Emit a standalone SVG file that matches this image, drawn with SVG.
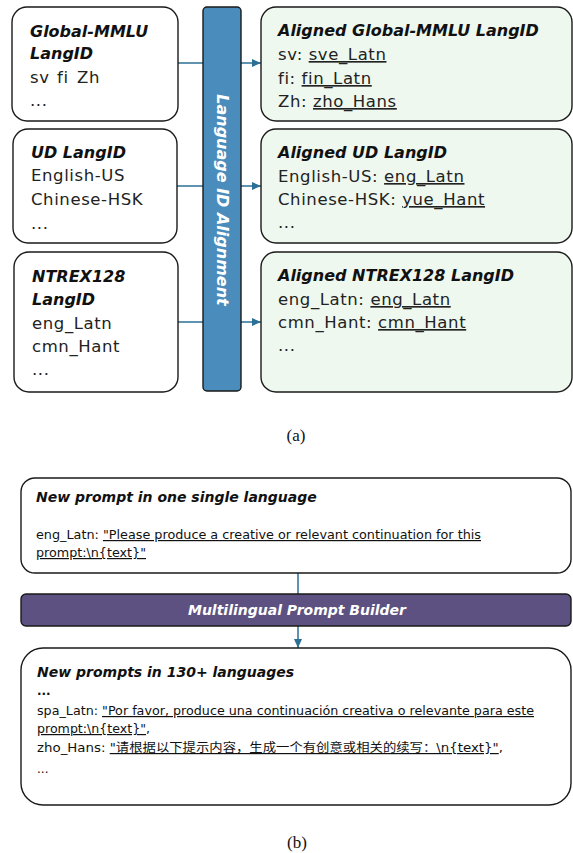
<svg xmlns="http://www.w3.org/2000/svg" width="573" height="853" viewBox="0 0 573 853">
<defs>
<marker id="arr" markerWidth="10" markerHeight="8" refX="9" refY="4" orient="auto" markerUnits="userSpaceOnUse"><path d="M0,0 L9,4 L0,8 z" fill="#2b6f94"/></marker>
</defs>
<style>
.box{fill:#fff;stroke:#1a1a1a;stroke-width:1.4}
.gbox{fill:#eef8ef;stroke:#1a1a1a;stroke-width:1.4}
.h{font-family:"DejaVu Sans",sans-serif;font-weight:bold;font-style:italic;font-size:16px;fill:#111}
.t{font-family:"DejaVu Sans",sans-serif;font-size:16.5px;letter-spacing:0.6px;fill:#222}
.u{text-decoration:underline}
.c{stroke:#2b6f94;stroke-width:1.5;fill:none}
.s{font-family:"DejaVu Sans","Noto Sans CJK SC",sans-serif;font-size:12px;fill:#111}
.bh{font-family:"DejaVu Sans",sans-serif;font-weight:bold;font-style:italic;font-size:14px;fill:#111}
.cap{font-family:"Liberation Serif",serif;font-size:17px;fill:#111;text-anchor:middle}
</style>
<rect width="573" height="853" fill="#fff"/>
<g id="connectors">
<path class="c" d="M178,63 H261" marker-end="url(#arr)"/>
<path class="c" d="M177,186 H261" marker-end="url(#arr)"/>
<path class="c" d="M178,322 H261" marker-end="url(#arr)"/>
<path class="c" d="M298,573 V594"/>
<path class="c" d="M298,626 V648" marker-end="url(#arr)"/>
</g>
<g id="gmmlu">
<rect class="box" x="12" y="7" width="166" height="114" rx="15"/>
<text class="h" x="30" y="37">Global-MMLU</text>
<text class="h" x="30" y="59">LangID</text>
<text class="t" y="83"><tspan x="30">sv</tspan><tspan x="57">fi</tspan><tspan x="77">Zh</tspan></text>
<text class="t" x="30" y="106">...</text>
</g>
<g id="ud">
<rect class="box" x="13" y="129" width="164" height="114" rx="15"/>
<text class="h" x="31" y="158">UD LangID</text>
<text class="t" x="31" y="181">English-US</text>
<text class="t" x="31" y="205">Chinese-HSK</text>
<text class="t" x="31" y="229">...</text>
</g>
<g id="ntrex">
<rect class="box" x="14" y="252" width="164" height="140" rx="15"/>
<text class="h" x="32" y="282">NTREX128</text>
<text class="h" x="32" y="305">LangID</text>
<text class="t" x="32" y="329">eng_Latn</text>
<text class="t" x="32" y="352">cmn_Hant</text>
<text class="t" x="32" y="375">...</text>
</g>
<g id="align">
<rect x="203" y="7" width="38" height="384" rx="4" fill="#4a8cbb" stroke="#1a1a1a" stroke-width="1.4"/>
<text class="h" transform="translate(222,200) rotate(90)" text-anchor="middle" dominant-baseline="central" style="fill:#fff">Language ID Alignment</text>
</g>
<g id="agmmlu">
<rect class="gbox" x="261" y="7" width="311" height="114" rx="15"/>
<text class="h" x="278" y="36">Aligned Global-MMLU LangID</text>
<text class="t" x="278" y="60">sv: <tspan class="u">sve_Latn</tspan></text>
<text class="t" x="278" y="84">fi: <tspan class="u">fin_Latn</tspan></text>
<text class="t" x="278" y="107">Zh: <tspan class="u">zho_Hans</tspan></text>
</g>
<g id="aud">
<rect class="gbox" x="261" y="129" width="311" height="114" rx="15"/>
<text class="h" x="278" y="158">Aligned UD LangID</text>
<text class="t" x="278" y="182">English-US: <tspan class="u">eng_Latn</tspan></text>
<text class="t" x="278" y="205">Chinese-HSK: <tspan class="u">yue_Hant</tspan></text>
<text class="t" x="278" y="228">...</text>
</g>
<g id="antrex">
<rect class="gbox" x="261" y="252" width="311" height="140" rx="15"/>
<text class="h" x="278" y="281">Aligned NTREX128 LangID</text>
<text class="t" x="278" y="305">eng_Latn: <tspan class="u">eng_Latn</tspan></text>
<text class="t" x="278" y="328">cmn_Hant: <tspan class="u">cmn_Hant</tspan></text>
<text class="t" x="278" y="351">...</text>
</g>
<text class="cap" x="296" y="441">(a)</text>
<g id="single">
<rect class="box" x="21" y="478" width="550" height="95" rx="14"/>
<text class="bh" x="36" y="502">New prompt in one single language</text>
<text class="s" x="36" y="539" textLength="445" lengthAdjust="spacingAndGlyphs">eng_Latn: <tspan class="u">"Please produce a creative or relevant continuation for this</tspan></text>
<text class="s" x="36" y="557" textLength="110" lengthAdjust="spacingAndGlyphs"><tspan class="u">prompt:\n{text}"</tspan></text>
</g>
<g id="builder">
<rect x="21" y="594" width="550" height="32" rx="5" fill="#5c5181" stroke="#1a1a1a" stroke-width="1.4"/>
<text class="bh" x="297" y="615" text-anchor="middle" style="fill:#fff">Multilingual Prompt Builder</text>
</g>
<g id="multi">
<rect class="box" x="21" y="648" width="550" height="157" rx="22"/>
<text class="bh" x="37" y="677">New prompts in 130+ languages</text>
<text class="s" x="37" y="695" font-weight="bold">...</text>
<text class="s" x="37" y="715" textLength="497" lengthAdjust="spacingAndGlyphs">spa_Latn: <tspan class="u">"Por favor, produce una continuación creativa o relevante para este</tspan></text>
<text class="s" x="37" y="733" textLength="113" lengthAdjust="spacingAndGlyphs"><tspan class="u">prompt:\n{text}"</tspan>,</text>
<text class="s" x="37" y="752" textLength="466" lengthAdjust="spacingAndGlyphs">zho_Hans: <tspan class="u">"请根据以下提示内容，生成一个有创意或相关的续写：\n{text}"</tspan>,</text>
<text class="s" x="37" y="773">...</text>
</g>
<text class="cap" x="297" y="848">(b)</text>
</svg>
